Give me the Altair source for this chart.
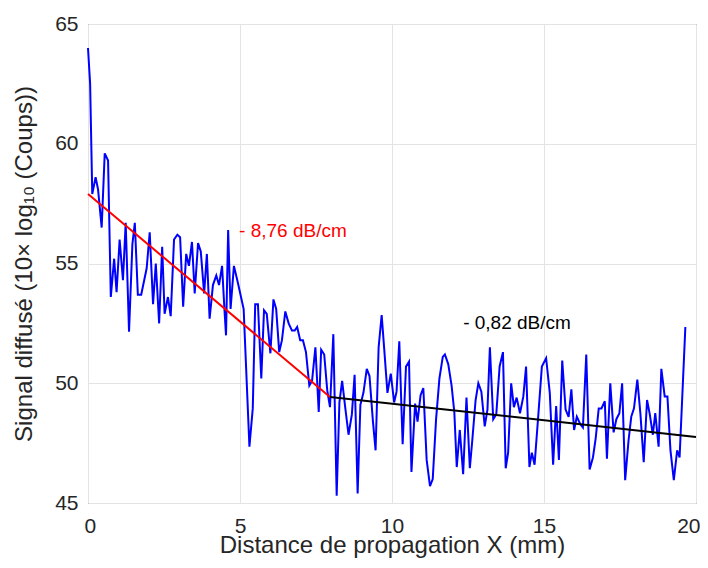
import altair as alt
import pandas as pd

x_mm = [0.00, 0.07, 0.14, 0.25, 0.33, 0.45, 0.55, 0.66, 0.75, 0.86, 0.94, 1.04, 1.15, 1.24, 1.35,
        1.46, 1.54, 1.64, 1.75, 1.93, 2.03, 2.14, 2.23, 2.34, 2.44, 2.52, 2.63, 2.72, 2.83, 2.94,
        3.03, 3.13, 3.23, 3.32, 3.42, 3.51, 3.62, 3.71, 3.82, 3.91, 4.00, 4.11, 4.22, 4.31, 4.41,
        4.49, 4.54, 4.61, 4.69, 4.80, 4.93, 5.12, 5.31, 5.42, 5.50, 5.59, 5.70, 5.79, 5.88, 6.00,
        6.10, 6.19, 6.29, 6.38, 6.49, 6.60, 6.71, 6.80, 6.88, 6.98, 7.07, 7.17, 7.28, 7.37, 7.48,
        7.59, 7.67, 7.77, 7.87, 7.96, 8.07, 8.18, 8.27, 8.36, 8.46, 8.57, 8.68, 8.77, 8.87, 8.96,
        9.06, 9.17, 9.26, 9.37, 9.46, 9.56, 9.66, 9.74, 9.85, 9.96, 10.07, 10.15, 10.24, 10.35, 10.46,
        10.56, 10.64, 10.76, 10.84, 10.94, 11.03, 11.14, 11.25, 11.34, 11.45, 11.56, 11.67, 11.74, 11.85,
        11.96, 12.05, 12.13, 12.23, 12.34, 12.45, 12.56, 12.64, 12.75, 12.84, 12.94, 13.05, 13.14, 13.22,
        13.33, 13.43, 13.54, 13.65, 13.74, 13.82, 13.92, 14.01, 14.10, 14.21, 14.32, 14.41, 14.52, 14.60,
        14.69, 14.80, 14.93, 15.07, 15.19, 15.30, 15.40, 15.49, 15.60, 15.71, 15.81, 15.90, 15.99, 16.08,
        16.19, 16.28, 16.39, 16.50, 16.61, 16.70, 16.80, 16.89, 17.00, 17.07, 17.18, 17.29, 17.38, 17.48,
        17.57, 17.67, 17.78, 17.87, 17.96, 18.07, 18.17, 18.28, 18.39, 18.48, 18.58, 18.66, 18.77, 18.86,
        18.97, 19.06, 19.16, 19.27, 19.38, 19.46, 19.65]
signal_db = [64.0, 62.5, 57.9, 58.6, 58.1, 56.5, 59.6, 59.3, 53.6, 55.2, 53.8, 56.0, 54.3, 56.7, 52.15,
             55.8, 56.7, 53.7, 53.7, 54.8, 56.3, 53.3, 55.0, 52.5, 55.7, 52.9, 53.6, 52.8, 56.0, 56.2,
             56.1, 53.2, 55.4, 54.9, 55.9, 53.75, 55.85, 55.5, 53.75, 55.4, 52.7, 54.1, 54.5, 54.1, 54.9,
             53.05, 52.0, 56.4, 53.1, 54.9, 54.2, 53.1, 47.35, 48.95, 53.3, 53.3, 50.2, 53.05, 52.9, 51.25,
             53.5, 53.1, 51.3, 51.8, 53.0, 52.5, 52.2, 52.2, 52.35, 51.8, 51.8, 51.3, 49.9, 50.1, 51.5,
             48.8, 51.4, 51.2, 49.7, 49.0, 52.05, 45.3, 49.2, 50.1, 49.0, 47.85, 48.7, 50.35, 45.4, 49.1,
             49.6, 50.6, 50.3, 48.45, 47.2, 51.5, 52.85, 51.5, 49.6, 50.4, 49.2, 49.65, 51.75, 47.45, 50.7,
             50.9, 46.3, 49.15, 48.4, 49.5, 49.8, 46.8, 45.7, 46.0, 48.5, 50.2, 51.1, 51.2, 50.8,
             49.9, 48.8, 46.5, 48.05, 46.2, 49.4, 46.45, 47.6, 49.3, 50.0, 49.65, 48.2, 48.9, 51.5,
             48.5, 48.7, 50.7, 51.3, 46.45, 47.1, 50.0, 49.0, 49.4, 48.75, 49.45, 50.7, 46.5, 47.1,
             46.6, 48.45, 50.7, 51.05, 49.6, 46.6, 49.05, 46.8, 50.95, 48.9, 48.6, 49.75, 48.05, 48.6,
             48.3, 48.15, 51.2, 46.4, 46.9, 47.7, 48.95, 48.95, 49.25, 46.85, 50.0, 47.95, 48.5, 48.75,
             50.0, 45.95, 47.6, 48.6, 48.95, 50.15, 48.75, 46.7, 49.3, 48.7, 47.85, 48.75, 47.35, 50.6,
             49.45, 49.45, 47.2, 45.95, 47.2, 46.9, 52.35]

# Linear fits
fit1_x = [0.0, 7.96]
fit1_y = [57.9, 49.43]
fit2_x = [7.96, 20.0]
fit2_y = [49.43, 47.76]

# Annotations
labels = ["- 8,76 dB/cm", "- 0,82 dB/cm"]
label_x = [4.97, 12.34]
label_y = [56.36, 52.5]
label_colors = ["#ff0000", "#000000"]

FONT = "Liberation Sans"

df = pd.DataFrame({"x": x_mm, "y": signal_db})
df1 = pd.DataFrame({"x": fit1_x, "y": fit1_y})
df2 = pd.DataFrame({"x": fit2_x, "y": fit2_y})

xscale = alt.Scale(domain=[0, 20], nice=False, zero=False)
yscale = alt.Scale(domain=[45, 65], nice=False, zero=False)

xaxis = alt.Axis(values=[0, 5, 10, 15, 20], title="Distance de propagation X (mm)",
                 labelFlush=True, labelFlushOffset=4, ticks=False, labelPadding=12, titlePadding=-3,
                 grid=True, domain=False)
yaxis = alt.Axis(values=[45, 50, 55, 60, 65], title="Signal diffusé (10× log₁₀ (Coups))",
                 labelFlush=False, ticks=False, labelPadding=10, titlePadding=18,
                 grid=True, domain=False)

base = alt.Chart(df).mark_line(color="#0000ff", strokeWidth=2).encode(
    x=alt.X("x:Q", scale=xscale, axis=xaxis),
    y=alt.Y("y:Q", scale=yscale, axis=yaxis),
)

red = alt.Chart(df1).mark_line(color="#ff0000", strokeWidth=2).encode(
    x=alt.X("x:Q", scale=xscale), y=alt.Y("y:Q", scale=yscale))
black = alt.Chart(df2).mark_line(color="#000000", strokeWidth=2).encode(
    x=alt.X("x:Q", scale=xscale), y=alt.Y("y:Q", scale=yscale))

tdf = pd.DataFrame({"x": label_x, "y": label_y, "t": labels, "c": label_colors})
texts = alt.Chart(tdf).mark_text(align="left", baseline="middle", font=FONT, fontSize=19).encode(
    x=alt.X("x:Q", scale=xscale), y=alt.Y("y:Q", scale=yscale), text="t:N",
    color=alt.Color("c:N", scale=None))

chart = alt.layer(base, red, black, texts).properties(
    width=608, height=479,
    autosize=alt.AutoSizeParams(type="none"),
    padding={"left": 80, "top": 16, "right": 4, "bottom": 57},
).configure_view(
    stroke="#4d4d4d", strokeWidth=1
).configure_axis(
    labelFont=FONT, titleFont=FONT, labelFontSize=21, titleFontSize=24,
    labelColor="#262626", titleColor="#262626", titleFontWeight="normal",
    gridColor="#e3e3e3", gridWidth=1
)

chart.save("out.html", embed_options={"renderer": "svg", "actions": False})
